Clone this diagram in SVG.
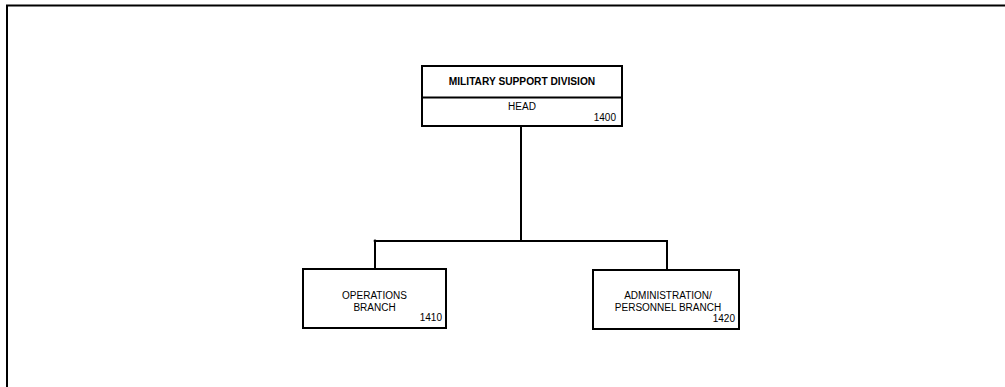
<svg xmlns="http://www.w3.org/2000/svg" width="1005" height="387" viewBox="0 0 1005 387">
<style>
.box{fill:#fff;stroke:#000;stroke-width:2}
.ln{fill:none;stroke:#000;stroke-width:2}
text{font-family:"Liberation Sans",Arial,sans-serif;font-size:10px;fill:#000}
.b{font-weight:bold;font-size:10.2px}
.c{text-anchor:middle}
.r{text-anchor:end}
</style>
<rect width="1005" height="387" fill="#fff"/>
<g id="frame">
<path class="ln" d="M7,387 V5.5 H1005"/>
</g>
<g id="connectors">
<path class="ln" d="M521,126 V241"/>
<path class="ln" d="M375,269 V241 H667 V270"/>
<circle cx="375" cy="241" r="1.4" fill="#000"/>
</g>
<g id="n1400">
<rect class="box" x="422" y="66" width="200" height="60"/>
<line class="ln" x1="422" y1="97.5" x2="622" y2="97.5"/>
<text class="b c" x="522" y="84.5">MILITARY SUPPORT DIVISION</text>
<text class="c" x="522" y="109.8">HEAD</text>
<text class="r" x="616" y="120.7">1400</text>
</g>
<g id="n1410">
<rect class="box" x="303" y="269" width="143" height="59"/>
<text class="c" x="374.5" y="299.3">OPERATIONS</text>
<text class="c" x="374.5" y="310.5">BRANCH</text>
<text class="r" x="442" y="321">1410</text>
</g>
<g id="n1420">
<rect class="box" x="593" y="270" width="146" height="59"/>
<text class="c" x="668" y="299.3">ADMINISTRATION/</text>
<text class="c" x="668" y="311.4">PERSONNEL BRANCH</text>
<text class="r" x="735" y="321.7">1420</text>
</g>
</svg>
